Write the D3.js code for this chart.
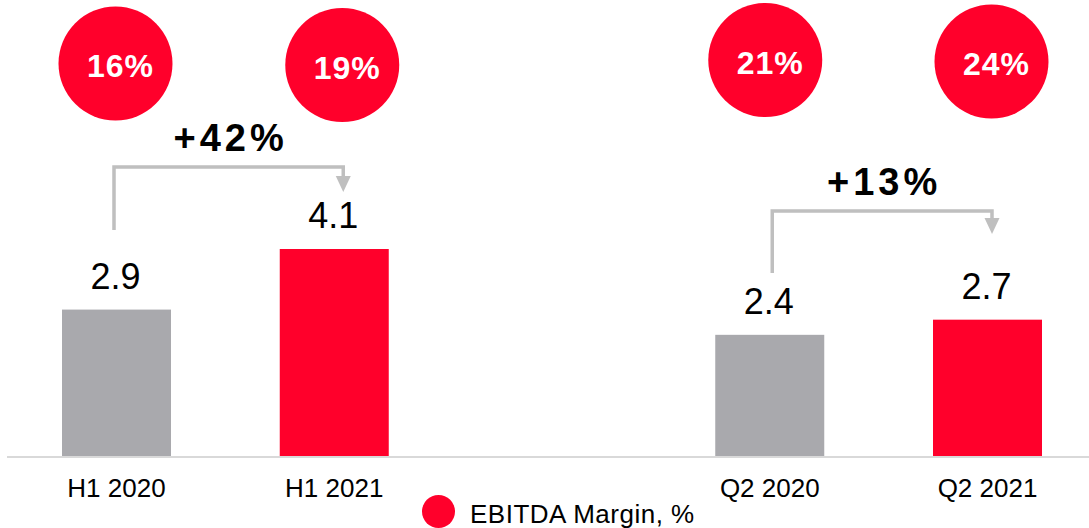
<!DOCTYPE html>
<html>
<head>
<meta charset="utf-8">
<script src="https://cdn.jsdelivr.net/npm/d3@7"></script>
<style>
  html, body { margin: 0; padding: 0; background: #fff; }
  svg { display: block; font-family: "Liberation Sans", Arial, sans-serif; }
</style>
</head>
<body>
<script>
var categories = ['H1 2020', 'H1 2021', '', 'Q2 2020', 'Q2 2021'];
var periods = ['H1 2020', 'H1 2021', 'Q2 2020', 'Q2 2021'];
var ebitda = [2.9, 4.1, 2.4, 2.7];
var margins = ['16%', '19%', '21%', '24%'];
var growthLabels = ['+42%', '+13%'];
var growthPairs = [[0, 1], [2, 3]];
var legendLabel = 'EBITDA Margin, %';

var width = 1089;
var height = 528;
var red = '#ff002b';
var grey = '#a9a9ad';
var lineGrey = '#bfbfbf';

var svg = d3.select('body').append('svg')
  .attr('width', width)
  .attr('height', height);

var x = d3.scalePoint()
  .domain(categories)
  .range([116.5, 987.5]);

var y = d3.scaleLinear()
  .domain([0, 4.1])
  .range([456, 249]);

var barWidth = 109;

// axis baseline
svg.append('line')
  .attr('x1', 7).attr('x2', width)
  .attr('y1', y(0) + 1).attr('y2', y(0) + 1)
  .attr('stroke', '#d9d9d9')
  .attr('stroke-width', 2);

var bars = periods.map(function(p, i) {
  return {name: p, value: ebitda[i], margin: margins[i], idx: i};
});

svg.selectAll('.bar')
  .data(bars)
  .enter().append('rect')
    .attr('class', 'bar')
    .attr('x', function(d) { return x(d.name) - barWidth / 2; })
    .attr('y', function(d) { return y(d.value); })
    .attr('width', barWidth)
    .attr('height', function(d) { return y(0) - y(d.value); })
    .attr('fill', function(d) { return d.idx % 2 === 0 ? grey : red; });

svg.selectAll('.value')
  .data(bars)
  .enter().append('text')
    .attr('class', 'value')
    .attr('x', function(d) { return x(d.name) - 1; })
    .attr('y', function(d) { return y(d.value) - 21; })
    .attr('text-anchor', 'middle')
    .attr('font-size', 36)
    .attr('fill', '#000')
    .text(function(d) { return d.value.toFixed(1); });

// category labels
svg.selectAll('.tick-label')
  .data(periods)
  .enter().append('text')
    .attr('class', 'tick-label')
    .attr('x', function(d) { return x(d); })
    .attr('y', 497)
    .attr('text-anchor', 'middle')
    .attr('font-size', 26)
    .attr('fill', '#000')
    .text(function(d) { return d; });

// margin bubbles (small nudges to match the slide)
var bubbleDx = [-1, 8, -4.5, 4];
var bubbleDy = [63.5, 65, 60, 61.5];

var bubble = svg.selectAll('.bubble')
  .data(bars)
  .enter().append('g')
    .attr('class', 'bubble')
    .attr('transform', function(d) {
      return 'translate(' + (x(d.name) + bubbleDx[d.idx]) + ',' + bubbleDy[d.idx] + ')';
    });

bubble.append('circle')
  .attr('r', 57)
  .attr('fill', red);

bubble.append('text')
  .attr('x', 5)
  .attr('y', 13.5)
  .attr('text-anchor', 'middle')
  .attr('font-size', 32)
  .attr('font-weight', 'bold')
  .attr('letter-spacing', 1)
  .attr('fill', '#fff')
  .text(function(d) { return d.margin; });

// growth brackets
var bracketTop = [167, 211];
var legEnd = [230, 273];
var tipY = [192, 234];
var leftDx = [-2.5, 2.5];
var rightDx = [9, 4.5];

growthPairs.forEach(function(pair, i) {
  var x0 = x(periods[pair[0]]) + leftDx[i];
  var x1 = x(periods[pair[1]]) + rightDx[i];
  var top = bracketTop[i];

  svg.append('path')
    .attr('d', 'M' + x0 + ',' + legEnd[i] + 'V' + top + 'H' + x1 + 'V' + (tipY[i] - 14))
    .attr('fill', 'none')
    .attr('stroke', lineGrey)
    .attr('stroke-width', 3.5);

  svg.append('path')
    .attr('d', 'M' + (x1 - 7.5) + ',' + (tipY[i] - 16) + 'L' + (x1 + 7.5) + ',' + (tipY[i] - 16) + 'L' + x1 + ',' + tipY[i] + 'Z')
    .attr('fill', lineGrey);

  svg.append('text')
    .attr('x', (x0 + x1) / 2 + 2)
    .attr('y', top - 16)
    .attr('text-anchor', 'middle')
    .attr('font-size', 38)
    .attr('font-weight', 'bold')
    .attr('letter-spacing', 4)
    .attr('fill', '#000')
    .text(growthLabels[i]);
});

// legend
var legend = svg.append('g')
  .attr('transform', 'translate(438.5,511.5)');

legend.append('circle')
  .attr('r', 16.5)
  .attr('fill', red);

legend.append('text')
  .attr('x', 31.5)
  .attr('y', 11.5)
  .attr('font-size', 26)
  .attr('letter-spacing', 0.5)
  .attr('fill', '#000')
  .text(legendLabel);
</script>
</body>
</html>
